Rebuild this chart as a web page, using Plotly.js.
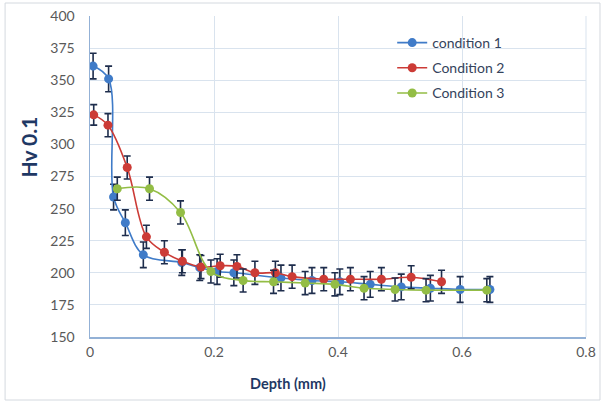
<!DOCTYPE html>
<html><head><meta charset="utf-8">
<script src="https://cdn.plot.ly/plotly-3.0.1.min.js"></script>
<style>html,body{margin:0;padding:0;background:#fff}#chart{width:602px;height:404px}</style>
</head><body><div id="chart"></div>
<script>
// Condition 1
const depth1 = [0.005, 0.03, 0.038, 0.057, 0.086, 0.148, 0.177, 0.205, 0.232, 0.308, 0.358, 0.403, 0.452, 0.502, 0.549, 0.597, 0.645];
const hv1    = [361, 351, 259, 239, 214, 208, 204, 201, 200, 196, 194, 193, 191, 189, 188, 187, 187];
const err1   = [10, 10, 10, 10, 10, 10, 10, 10, 10, 10, 10, 10, 10, 10, 10, 10, 10];
// Condition 2
const depth2 = [0.006, 0.029, 0.06, 0.091, 0.12, 0.149, 0.179, 0.21, 0.237, 0.266, 0.299, 0.326, 0.377, 0.42, 0.47, 0.518, 0.567];
const hv2    = [323, 315, 282, 228, 216, 209, 204.5, 205.5, 205, 200, 200, 197, 195, 195, 195, 196.5, 193];
const err2   = [8, 9, 9, 9, 9, 9, 9, 9, 9, 9, 9, 9, 9, 9, 9, 9, 9];
// Condition 3
const depth3 = [0.044, 0.096, 0.146, 0.195, 0.247, 0.296, 0.347, 0.395, 0.442, 0.492, 0.542, 0.64];
const hv3    = [265.5, 265.5, 247, 201, 194, 193, 192, 191, 188, 187, 186.5, 186.5];
const err3   = [9, 9, 9, 9, 9, 9, 9, 9, 9, 9, 9, 9];

const names = ['condition 1', 'Condition 2', 'Condition 3'];
const colors = ['#3f7bc8', '#cc3b36', '#93bd45'];
const xTicks = [0, 0.2, 0.4, 0.6, 0.8];
const yTicks = [150, 175, 200, 225, 250, 275, 300, 325, 350, 375, 400];

const errStyle = {type: 'data', visible: true, color: '#1e2d4c', thickness: 1.6, width: 3.5};
function tr(x, y, e, i) {
  return {
    x: x, y: y, name: names[i], legendgroup: 'g' + i, type: 'scatter', mode: 'lines+markers',
    line: {color: colors[i], width: 1.6, shape: 'spline', smoothing: 1},
    marker: {color: colors[i], size: 9},
    error_y: Object.assign({array: e}, errStyle)
  };
}
const data = [tr(depth1, hv1, err1, 0), tr(depth2, hv2, err2, 1), tr(depth3, hv3, err3, 2)];

const M = {l: 89.5, r: 16, t: 16, b: 67};
const W = 602, H = 404;
const pw = W - M.l - M.r, ph = H - M.t - M.b;
const px = v => (v - M.l) / pw, py = v => (H - M.b - v) / ph;

const layout = {
  width: W, height: H, margin: M,
  paper_bgcolor: '#ffffff', plot_bgcolor: '#ffffff',
  font: {family: 'Lato, "Noto Sans", sans-serif', color: '#595959', size: 14},
  showlegend: true,
  legend: {x: px(392), y: py(27), xanchor: 'left', yanchor: 'top', traceorder: 'grouped',
           font: {size: 14, color: '#34435c'}, bgcolor: 'rgba(0,0,0,0)', tracegroupgap: 4},
  xaxis: {range: [0, 0.8], tickvals: xTicks, ticktext: xTicks.map(String), showgrid: true,
          gridcolor: '#d9e3ee', gridwidth: 1, zeroline: false, showline: true, linecolor: '#93b1d6',
          linewidth: 1.5, ticks: '', ticklen: 0, ticklabelstandoff: 2, tickfont: {size: 14, color: '#595959'}, fixedrange: true},
  yaxis: {range: [150, 400], tickvals: yTicks, ticktext: yTicks.map(String), showgrid: true,
          gridcolor: '#d9e3ee', gridwidth: 1, zeroline: false, showline: true, linecolor: '#93b1d6',
          linewidth: 1.5, ticks: '', ticklen: 0, ticklabelstandoff: 11, tickfont: {size: 14, color: '#595959'}, fixedrange: true},
  shapes: [
    {type: 'line', xref: 'paper', yref: 'paper', x0: 1, x1: 1, y0: 0, y1: 1, line: {color: '#d9e3ee', width: 1}},
    {type: 'rect', xref: 'paper', yref: 'paper', x0: px(4.5), x1: px(600), y0: py(400), y1: py(3),
     line: {color: '#d4d9df', width: 1}, fillcolor: 'rgba(0,0,0,0)', layer: 'below'}
  ],
  annotations: [
    {text: '<b>Depth (mm)</b>', xref: 'paper', yref: 'paper', x: px(288), y: py(384), showarrow: false,
     xanchor: 'center', yanchor: 'middle', font: {size: 14.5, color: '#1f3864'}},
    {text: '<b>Hv 0.1</b>', xref: 'paper', yref: 'paper', x: px(27), y: py(147), showarrow: false,
     xanchor: 'center', yanchor: 'middle', textangle: -90, font: {size: 21, color: '#1f3864'}}
  ]
};
Plotly.newPlot('chart', data, layout, {displayModeBar: false, staticPlot: true});
</script></body></html>
